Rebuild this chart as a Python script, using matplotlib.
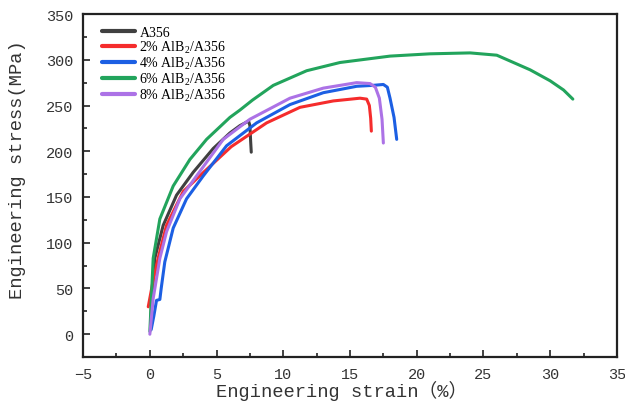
import numpy as np
import matplotlib
matplotlib.use('Agg')
import matplotlib.pyplot as plt
from matplotlib.ticker import MultipleLocator

plt.rcParams['font.family'] = ['Liberation Mono', 'Noto Sans CJK SC']
plt.rcParams['mathtext.fontset'] = 'custom'
plt.rcParams['mathtext.rm'] = 'Liberation Serif'
plt.rcParams['mathtext.it'] = 'Liberation Serif:italic'

# 응력-변형률 곡선
a356_x = [0.05, 0.12, 0.37, 1.0, 2.0, 3.25, 4.75, 6.0, 6.75, 7.4, 7.5, 7.55, 7.6]
a356_y = [10, 32, 83, 119, 152, 177, 203, 220, 228, 233, 228, 212, 199]

al2_x = [-0.12, 0.2, 0.62, 1.25, 2.5, 4.1, 6.1, 8.75, 11.25, 13.75, 15.75, 16.25, 16.45, 16.55, 16.6]
al2_y = [30, 55, 83, 119, 156, 178, 205, 231, 248, 255, 258, 257, 250, 236, 222]

al4_x = [0.1, 0.3, 0.5, 0.75, 0.85, 1.12, 1.75, 2.75, 4.0, 5.75, 8.0, 10.5, 13.0, 15.5, 16.7, 17.5, 17.8, 18.0, 18.3, 18.5]
al4_y = [5, 20, 37, 38, 50, 79, 116, 148, 173, 206, 231, 251, 264, 271, 272, 273, 270, 258, 237, 213]

al6_x = [0, 0.25, 0.75, 1.75, 3.0, 4.25, 6.0, 6.75, 7.7, 9.25, 11.75, 14.25, 18.0, 21.0, 24.0, 26.0, 28.5, 30.0, 31.0, 31.7]
al6_y = [3, 83, 126, 162, 191, 213, 237, 245, 256, 272, 288, 297, 304, 306.5, 307.5, 305, 289, 277, 267, 257]

al8_x = [0, 0.25, 0.75, 1.25, 2.25, 3.6, 5.5, 7.5, 10.5, 13.0, 15.5, 16.5, 16.9, 17.2, 17.4, 17.5]
al8_y = [0, 39, 83, 112, 148, 175, 213, 235, 258, 269, 275, 274, 270, 258, 235, 209]

series = [
    ("A356", a356_x, a356_y, "#404040"),
    ("2% AlB$_2$/A356", al2_x, al2_y, "#f52c2c"),
    ("4% AlB$_2$/A356", al4_x, al4_y, "#1c5fe3"),
    ("6% AlB$_2$/A356", al6_x, al6_y, "#22a45c"),
    ("8% AlB$_2$/A356", al8_x, al8_y, "#ac72e6"),
]

fig = plt.figure(figsize=(6.25, 4.06), dpi=100)
ax = fig.add_axes([0.133, 0.118, 0.854, 0.845])

for label, xs, ys, c in series:
    ax.plot(xs, ys, color=c, lw=2.2, label=label,
            solid_capstyle='round', solid_joinstyle='round')

ax.set_xlim(-5, 35)
ax.set_ylim(-25, 350)
ax.xaxis.set_major_locator(MultipleLocator(5))
ax.xaxis.set_minor_locator(MultipleLocator(2.5))
ax.yaxis.set_major_locator(MultipleLocator(50))
ax.yaxis.set_minor_locator(MultipleLocator(25))
ax.tick_params(which='both', direction='in', labelsize=11, width=1.2,
               color='#222222', labelcolor='#333333')
ax.tick_params(which='major', length=5, pad=7)
ax.tick_params(which='minor', length=3)
for s in ax.spines.values():
    s.set_linewidth(1.6)
    s.set_color('#222222')

ax.set_xlabel("Engineering strain（%）", fontsize=13.5, color='#333333')
ax.set_ylabel("Engineering stress(MPa)", fontsize=13.5, color='#333333')
ax.xaxis.set_label_coords(0.485, -0.068)
ax.yaxis.set_label_coords(-0.107, 0.55)

leg = ax.legend(loc='upper left', bbox_to_anchor=(0.013, 1.0), frameon=False,
                handlelength=2.4, handletextpad=0.3, labelspacing=0.0,
                borderaxespad=0.45,
                prop={'family': 'Liberation Serif', 'size': 10})
for line in leg.get_lines():
    line.set_linewidth(3)

fig.savefig("out.png", dpi=100)
